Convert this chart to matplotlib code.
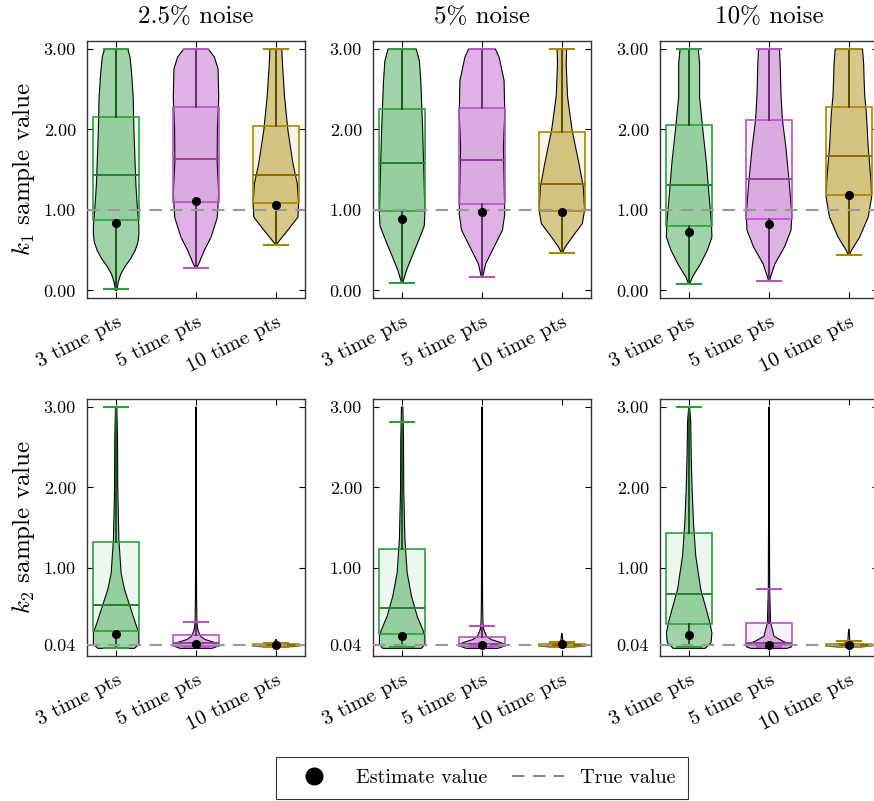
import matplotlib
matplotlib.use("Agg")
import matplotlib.pyplot as plt
from matplotlib.lines import Line2D
from matplotlib.colors import to_rgb

plt.rcParams['font.family'] = 'serif'
plt.rcParams['font.serif'] = ['cmr10', 'DejaVu Serif']
plt.rcParams['mathtext.fontset'] = 'cm'
plt.rcParams['axes.formatter.use_mathtext'] = True

noise_labels = ['2.5% noise', '5% noise', '10% noise']
time_labels = ['3 time pts', '5 time pts', '10 time pts']
colors = ['#2e9e3e', '#b654c4', '#a88600']

k1_true = 1.0
k2_true = 0.04

# box statistics, [noise level][time pts]
k1_whislo = [[0.02, 0.28, 0.57], [0.09, 0.17, 0.465], [0.075, 0.116, 0.436]]
k1_q1 = [[0.88, 1.095, 1.083], [0.988, 1.075, 0.992], [0.798, 0.893, 1.18]]
k1_med = [[1.43, 1.635, 1.436], [1.585, 1.622, 1.324], [1.313, 1.388, 1.674]]
k1_q3 = [[2.158, 2.28, 2.046], [2.257, 2.266, 1.967], [2.057, 2.123, 2.281]]
k1_whishi = [[3.0, 3.0, 3.0], [3.0, 3.0, 3.0], [3.0, 3.0, 3.0]]
k1_est = [[0.84, 1.11, 1.066], [0.888, 0.975, 0.971], [0.727, 0.831, 1.184]]

k2_whislo = [[0.0, 0.015, 0.02], [0.015, 0.015, 0.02], [0.015, 0.015, 0.02]]
k2_q1 = [[0.214, 0.03, 0.03], [0.181, 0.027, 0.03], [0.297, 0.036, 0.025]]
k2_med = [[0.538, 0.07, 0.04], [0.496, 0.06, 0.045], [0.675, 0.069, 0.045]]
k2_q3 = [[1.322, 0.16, 0.05], [1.23, 0.14, 0.055], [1.43, 0.318, 0.06]]
k2_whishi = [[3.0, 0.33, 0.07], [2.81, 0.284, 0.08], [3.0, 0.733, 0.09]]
k2_est = [[0.173, 0.052, 0.036], [0.148, 0.04, 0.048], [0.168, 0.044, 0.044]]

# violin outlines: sample levels and relative half widths, [noise level][time pts]
k1_violin_y = [
    [[0.0, 0.1, 0.2, 0.3, 0.4, 0.5, 0.6, 0.7, 0.8, 1.0, 1.3, 1.6, 2.0, 2.4, 2.7, 2.9, 3.0],
     [0.28, 0.33, 0.5, 0.66, 0.9, 1.2, 1.6, 2.0, 2.4, 2.75, 2.9, 3.0],
     [0.57, 0.62, 0.75, 0.91, 1.08, 1.33, 1.58, 1.99, 2.41, 2.82, 3.0]],
    [[0.09, 0.25, 0.46, 0.66, 0.8, 0.95, 1.4, 2.0, 2.6, 2.85, 3.0],
     [0.166, 0.33, 0.54, 0.75, 0.95, 1.37, 1.78, 2.2, 2.61, 2.9, 3.0],
     [0.465, 0.54, 0.66, 0.83, 1.0, 1.29, 1.58, 1.99, 2.41, 2.82, 3.0]],
    [[0.075, 0.17, 0.33, 0.5, 0.66, 0.83, 1.16, 1.58, 2.0, 2.4, 2.82, 3.0],
     [0.116, 0.17, 0.33, 0.54, 0.75, 0.95, 1.37, 1.78, 2.12, 2.41, 2.82, 3.0],
     [0.436, 0.5, 0.66, 0.91, 1.16, 1.37, 1.78, 2.2, 2.41, 2.62, 2.82, 3.0]],
]
k1_violin_w = [
    [[0.03, 0.09, 0.2, 0.4, 0.65, 0.84, 0.96, 1.0, 1.0, 0.94, 0.87, 0.83, 0.78, 0.75, 0.68, 0.61, 0.51],
     [0.03, 0.12, 0.37, 0.66, 0.93, 1.0, 0.93, 0.94, 1.0, 0.97, 0.81, 0.54],
     [0.02, 0.16, 0.53, 0.97, 1.0, 0.94, 0.75, 0.53, 0.38, 0.29, 0.26]],
    [[0.02, 0.19, 0.49, 0.78, 0.97, 1.0, 0.96, 0.9, 0.82, 0.76, 0.62],
     [0.03, 0.16, 0.53, 0.9, 1.0, 0.97, 0.94, 1.0, 0.97, 0.75, 0.59],
     [0.02, 0.15, 0.45, 0.9, 1.0, 0.94, 0.75, 0.45, 0.25, 0.19, 0.21]],
    [[0.02, 0.15, 0.5, 0.8, 1.0, 0.98, 0.88, 0.76, 0.6, 0.46, 0.46, 0.4],
     [0.02, 0.07, 0.26, 0.68, 0.97, 1.0, 0.88, 0.74, 0.59, 0.53, 0.49, 0.46],
     [0.02, 0.12, 0.47, 0.85, 1.0, 0.97, 0.85, 0.77, 0.7, 0.67, 0.65, 0.6]],
]

k2_violin_y = [
    [[0.0, 0.05, 0.19, 0.32, 0.53, 0.73, 0.93, 1.35, 1.98, 2.6, 3.0],
     [0.0, 0.03, 0.07, 0.11, 0.15, 0.23, 0.33, 0.6, 1.0, 2.0, 3.0],
     [0.015, 0.025, 0.035, 0.045, 0.055, 0.07, 0.11]],
    [[0.0, 0.05, 0.15, 0.23, 0.4, 0.65, 0.94, 1.36, 1.98, 2.6, 3.0],
     [0.0, 0.03, 0.07, 0.11, 0.15, 0.23, 0.33, 0.6, 1.0, 2.0, 3.0],
     [0.015, 0.025, 0.035, 0.045, 0.055, 0.07, 0.185]],
    [[0.0, 0.07, 0.19, 0.32, 0.53, 0.73, 1.15, 1.56, 1.98, 2.39, 2.81, 3.0],
     [0.0, 0.02, 0.05, 0.09, 0.15, 0.32, 0.73, 1.5, 3.0],
     [0.015, 0.025, 0.035, 0.045, 0.055, 0.07, 0.235]],
]
k2_violin_w = [
    [[0.8, 1.0, 1.0, 0.84, 0.6, 0.37, 0.22, 0.12, 0.07, 0.06, 0.03],
     [0.7, 1.0, 0.85, 0.4, 0.2, 0.08, 0.04, 0.025, 0.02, 0.015, 0.01],
     [0.3, 0.9, 1.0, 0.8, 0.4, 0.05, 0.01]],
    [[0.85, 1.0, 1.0, 0.91, 0.66, 0.41, 0.22, 0.12, 0.07, 0.06, 0.03],
     [0.7, 1.0, 0.85, 0.4, 0.2, 0.08, 0.04, 0.025, 0.02, 0.015, 0.01],
     [0.3, 0.9, 1.0, 0.8, 0.4, 0.05, 0.01]],
    [[0.7, 0.96, 1.0, 0.91, 0.71, 0.51, 0.29, 0.19, 0.13, 0.09, 0.07, 0.02],
     [0.8, 1.0, 0.95, 0.6, 0.22, 0.07, 0.03, 0.02, 0.01],
     [0.3, 0.9, 1.0, 0.8, 0.4, 0.05, 0.01]],
]

params = [
    dict(label='$k_1$ sample value', true=k1_true, ticks=[0.0, 1.0, 2.0, 3.0],
         whislo=k1_whislo, q1=k1_q1, med=k1_med, q3=k1_q3, whishi=k1_whishi,
         est=k1_est, vy=k1_violin_y, vw=k1_violin_w),
    dict(label='$k_2$ sample value', true=k2_true, ticks=[0.04, 1.0, 2.0, 3.0],
         whislo=k2_whislo, q1=k2_q1, med=k2_med, q3=k2_q3, whishi=k2_whishi,
         est=k2_est, vy=k2_violin_y, vw=k2_violin_w),
]

W, H = 874, 801
fig = plt.figure(figsize=(W / 100, H / 100), dpi=100)

col_left = [87, 373, 660]
row_top = [41, 399]
ax_w, ax_h = 218, 257
half_violin = 0.285
box_width = 0.58
cap_width = 0.3
positions = [1, 2, 3]


def darker(c, f=0.55):
    r, g, b = to_rgb(c)
    return (r * f, g * f, b * f)


for r, p in enumerate(params):
    for c in range(3):
        ax = fig.add_axes([col_left[c] / W, 1 - (row_top[r] + ax_h) / H, ax_w / W, ax_h / H])

        for i, pos in enumerate(positions):
            ys = p['vy'][c][i]
            ws = [w * half_violin for w in p['vw'][c][i]]
            ax.fill_betweenx(ys, [pos - w for w in ws], [pos + w for w in ws],
                             facecolor=colors[i], alpha=0.45, edgecolor='none', zorder=1)
            ax.fill_betweenx(ys, [pos - w for w in ws], [pos + w for w in ws],
                             facecolor='none', edgecolor='black', linewidth=0.8, zorder=2)

            stats = [dict(whislo=p['whislo'][c][i], q1=p['q1'][c][i], med=p['med'][c][i],
                          q3=p['q3'][c][i], whishi=p['whishi'][c][i], fliers=[])]
            ax.bxp(stats, positions=[pos], widths=box_width, patch_artist=True,
                   showfliers=False, manage_ticks=False,
                   boxprops=dict(facecolor=(*to_rgb(colors[i]), 0.08), edgecolor=colors[i], linewidth=1.2),
                   medianprops=dict(color=darker(colors[i], 0.8), linewidth=1.4),
                   whiskerprops=dict(color=darker(colors[i]), linewidth=1.4),
                   capprops=dict(color=colors[i], linewidth=1.5),
                   capwidths=cap_width)
            ax.plot(pos, p['est'][c][i], 'o', color='black', markersize=5.5, zorder=6)

        ax.axhline(p['true'], color='#999999', linestyle=(0, (6, 4)), linewidth=1.5, zorder=5)

        ax.set_xlim(0.635, 3.365)
        ax.set_ylim(-0.095, 3.10)
        ax.set_yticks(p['ticks'])
        ax.set_yticklabels(['%.2f' % t for t in p['ticks']], fontsize=13)
        ax.set_xticks(positions)
        ax.set_xticklabels(time_labels, fontsize=15, rotation=27, ha='right',
                           rotation_mode='anchor')
        ax.tick_params(direction='in', top=True, right=True, length=4, width=0.8)
        ax.tick_params(axis='y', pad=8)
        ax.tick_params(axis='x', pad=11)
        for s in ax.spines.values():
            s.set_color('#333333')
            s.set_linewidth(1.0)
        if c == 0:
            ax.set_ylabel(p['label'], fontsize=18, labelpad=5)
        if r == 0:
            ax.set_title(noise_labels[c], fontsize=18, pad=13)

handles = [
    Line2D([], [], marker='o', color='black', linestyle='none', markersize=12),
    Line2D([], [], color='#888888', linestyle=(0, (6, 4)), linewidth=1.5),
]
leg = fig.legend(handles, ['Estimate value', 'True value'], loc='center',
                 bbox_to_anchor=(482 / W, 1 - 778 / H), ncol=2, fontsize=14.5,
                 frameon=True, fancybox=False, edgecolor='black', handlelength=2.6,
                 columnspacing=1.2, borderpad=0.6)
leg.get_frame().set_linewidth(0.8)

fig.savefig('out.png', dpi=100)
